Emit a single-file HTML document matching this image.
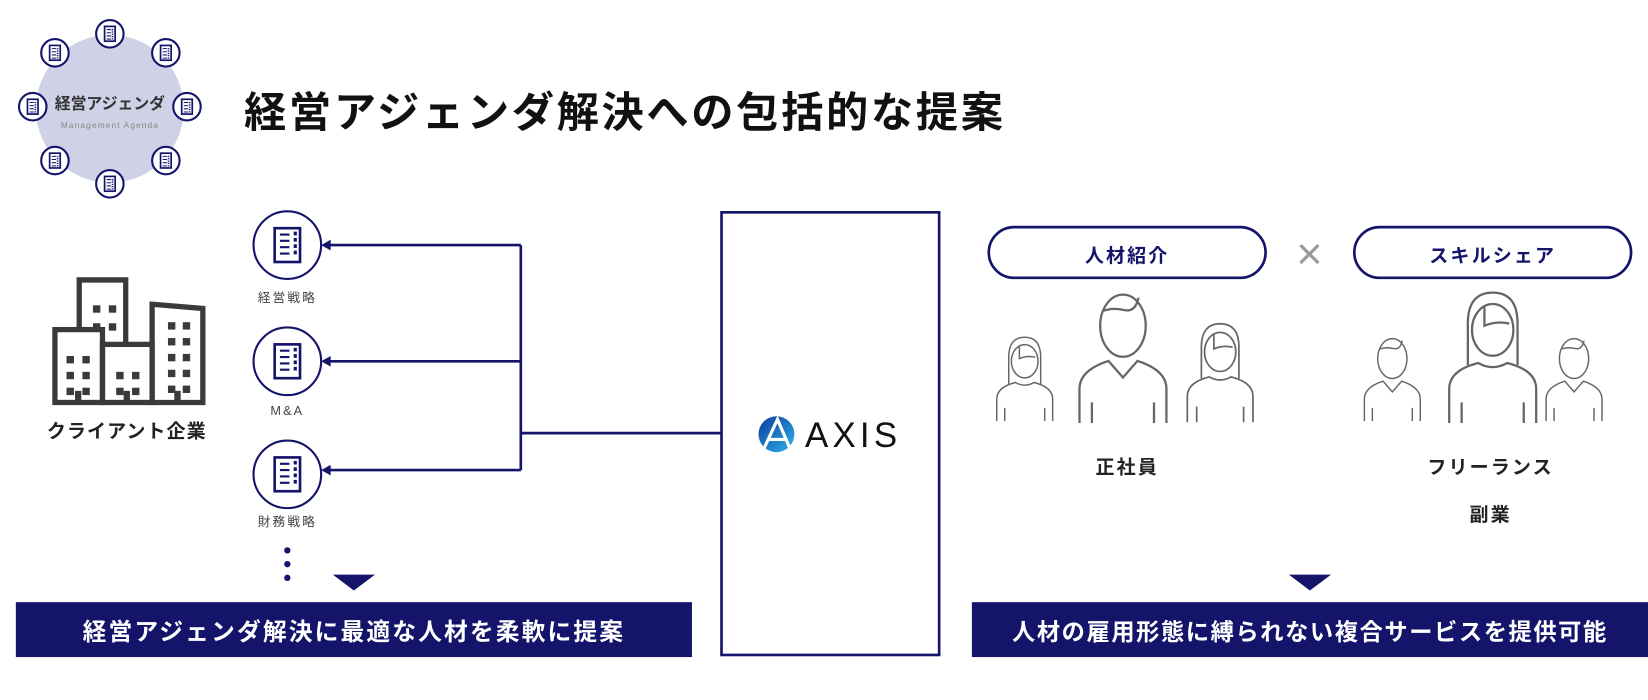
<!DOCTYPE html>
<html><head><meta charset="utf-8"><style>
body{margin:0;width:1648px;height:663px;background:#fff;position:relative;overflow:hidden;font-family:"Liberation Sans","Noto Sans CJK JP",sans-serif}
#w{position:absolute;left:0;top:0;width:1560px;height:628px;transform:scale(1.0564);transform-origin:0 0}
.t{position:absolute;white-space:nowrap}
</style></head><body><div id="w">
<svg width="1648" height="663" style="position:absolute;left:0;top:0">
<defs>
<g id="doc"><circle r="13" fill="#fff" stroke="#14146b" stroke-width="2"/><rect x="-5" y="-7" width="10" height="14" fill="none" stroke="#14146b" stroke-width="1.6"/><path d="M-3-4h4M-3-1h4M-3 2h4M-3 5h4" stroke="#14146b" stroke-width="1"/><path d="M2.5-4.5v10" stroke="#14146b" stroke-width="1.6" stroke-dasharray="1.2 1"/></g>
<g id="bdoc"><circle r="32" fill="#fff" stroke="#14146b" stroke-width="2"/><rect x="-12" y="-16" width="24" height="32" fill="none" stroke="#14146b" stroke-width="2.5"/><path d="M-7-10h9M-7-4h9M-7 2h9M-7 8h9" stroke="#14146b" stroke-width="2"/><path d="M6-11h3M6-5h3M6 1h3M6 7h3" stroke="#14146b" stroke-width="3.5"/></g>
<g id="man" fill="none" stroke="#666" stroke-width="2.2"><ellipse cx="0" cy="34" rx="22" ry="30"/><path d="M-20 20q10 -4 22 -1q10 2 13 -12"/><path d="M-42 128V95q0-18 28-27L0 84L14 68q28 9 28 27v33M-30 108v20M30 108v20"/></g>
<g id="wom" fill="none" stroke="#666" stroke-width="2.2"><ellipse cx="0" cy="38" rx="20" ry="25"/><path d="M-24 72V32q0-30 24-30q24 0 24 30v40"/><path d="M-8 16v18q12 -5 24 -2"/><path d="M-42 128V95q0-18 28-25q14 8 28 0q28 7 28 25v33M-30 108v20M30 108v20"/></g>
</defs>
<circle cx="104" cy="103" r="70" fill="#cfd1e6"/>
<use href="#doc" x="104" y="32"/><use href="#doc" x="52" y="50"/><use href="#doc" x="157" y="50"/><use href="#doc" x="31" y="101"/><use href="#doc" x="177" y="101"/><use href="#doc" x="52" y="152"/><use href="#doc" x="157" y="152"/><use href="#doc" x="104" y="174"/>
<rect x="76" y="264" width="42" height="48" fill="#fff"/><rect x="98" y="327" width="44" height="52" fill="#fff"/><rect x="53" y="313" width="42" height="66" fill="#fff"/>
<g fill="none" stroke="#3a3a3a" stroke-width="5"><path d="M144 381V288l48 4v89z"/><path d="M75 312V265h44v61"/><rect x="52" y="312" width="45" height="69"/><rect x="97" y="326" width="47" height="55"/></g>
<g fill="#3a3a3a"><rect x="88" y="289" width="7" height="7"/><rect x="103" y="289" width="7" height="7"/><rect x="88" y="306" width="7" height="7"/><rect x="103" y="306" width="7" height="7"/>
<rect x="63" y="337" width="7" height="7"/><rect x="78" y="337" width="7" height="7"/><rect x="63" y="352" width="7" height="7"/><rect x="78" y="352" width="7" height="7"/><rect x="63" y="367" width="7" height="7"/><rect x="78" y="367" width="7" height="7"/>
<rect x="110" y="352" width="7" height="7"/><rect x="125" y="352" width="7" height="7"/><rect x="110" y="367" width="7" height="7"/><rect x="125" y="367" width="7" height="7"/>
<rect x="159" y="305" width="7" height="7"/><rect x="173" y="305" width="7" height="7"/><rect x="159" y="320" width="7" height="7"/><rect x="173" y="320" width="7" height="7"/><rect x="159" y="335" width="7" height="7"/><rect x="173" y="335" width="7" height="7"/><rect x="159" y="350" width="7" height="7"/><rect x="173" y="350" width="7" height="7"/><rect x="159" y="365" width="7" height="7"/><rect x="173" y="365" width="7" height="7"/>
<rect x="71" y="370" width="6" height="11"/><rect x="117" y="370" width="6" height="11"/><rect x="165" y="370" width="6" height="11"/></g>
<use href="#bdoc" x="272" y="232"/><use href="#bdoc" x="272" y="342"/><use href="#bdoc" x="272" y="449"/>
<g stroke="#14146b" stroke-width="2.5" fill="none"><path d="M682 410H493M493 232V445M493 232H312M493 342H312M493 445H312"/></g>
<g fill="#14146b"><path d="M304 232l9-5v10z"/><path d="M304 342l9-5v10z"/><path d="M304 445l9-5v10z"/>
<circle cx="272" cy="521" r="3"/><circle cx="272" cy="534" r="3"/><circle cx="272" cy="547" r="3"/>
<path d="M315 544h40l-20 15z"/><path d="M1220 544h40l-20 15z"/></g>
<rect x="683" y="201" width="206" height="419" fill="none" stroke="#14146b" stroke-width="2.5"/>
<defs><linearGradient id="ag" x1="0" y1="0" x2="1" y2="1"><stop offset="0" stop-color="#0a3a9a"/><stop offset="1" stop-color="#30b4ee"/></linearGradient></defs>
<circle cx="735" cy="411" r="17" fill="url(#ag)"/><path d="M723 425L736 397L748 425M727 416h17" stroke="#fff" stroke-width="3" fill="none"/>
<rect x="936" y="215" width="262" height="48" rx="24" fill="#fff" stroke="#14146b" stroke-width="2.5"/>
<rect x="1282" y="215" width="262" height="48" rx="24" fill="#fff" stroke="#14146b" stroke-width="2.5"/>
<path d="M1231 232l17 17M1248 232l-17 17" stroke="#999" stroke-width="3"/>
<use href="#wom" transform="translate(970,318) scale(0.63)"/>
<use href="#man" transform="translate(1063,275) scale(0.98)"/>
<use href="#wom" transform="translate(1155,305) scale(0.74)"/>
<use href="#man" transform="translate(1318,318) scale(0.63)"/>
<use href="#wom" transform="translate(1413,275) scale(0.98)"/>
<use href="#man" transform="translate(1490,318) scale(0.63)"/>
<rect x="15" y="570" width="640" height="52" fill="#14146b"/>
<rect x="920" y="570" width="640" height="52" fill="#14146b"/>
</svg>
<div class="t" style="left:20px;top:87px;width:168px;text-align:center;font-size:15px;font-weight:bold;color:#333">経営アジェンダ</div>
<div class="t" style="left:20px;top:114px;width:168px;text-align:center;font-size:8px;letter-spacing:1px;color:#888">Management Agenda</div>
<div class="t" style="left:231px;top:74px;font-size:40px;font-weight:bold;color:#111;letter-spacing:2.5px">経営アジェンダ解決への包括的な提案</div>
<div class="t" style="left:30px;top:394px;width:180px;text-align:center;font-size:18px;font-weight:bold;color:#222;letter-spacing:1px">クライアント企業</div>
<div class="t" style="left:222px;top:273px;width:100px;text-align:center;font-size:12px;color:#444;letter-spacing:2px">経営戦略</div>
<div class="t" style="left:222px;top:382px;width:100px;text-align:center;font-size:12px;color:#444;letter-spacing:2px">M&amp;A</div>
<div class="t" style="left:222px;top:485px;width:100px;text-align:center;font-size:12px;color:#444;letter-spacing:2px">財務戦略</div>
<div class="t" style="left:762px;top:393px;font-size:33px;color:#111;letter-spacing:4px">AXIS</div>
<div class="t" style="left:936px;top:228px;width:262px;text-align:center;font-size:18px;font-weight:bold;color:#14146b;letter-spacing:2px">人材紹介</div>
<div class="t" style="left:1282px;top:228px;width:262px;text-align:center;font-size:18px;font-weight:bold;color:#14146b;letter-spacing:2px">スキルシェア</div>
<div class="t" style="left:967px;top:428px;width:200px;text-align:center;font-size:18px;font-weight:bold;color:#222;letter-spacing:2px">正社員</div>
<div class="t" style="left:1311px;top:428px;width:200px;text-align:center;font-size:18px;font-weight:bold;color:#222;letter-spacing:2px">フリーランス</div>
<div class="t" style="left:1311px;top:473px;width:200px;text-align:center;font-size:18px;font-weight:bold;color:#222;letter-spacing:2px">副業</div>
<div class="t" style="left:15px;top:581px;width:640px;text-align:center;font-size:22.5px;font-weight:bold;color:#fff;letter-spacing:2px">経営アジェンダ解決に最適な人材を柔軟に提案</div>
<div class="t" style="left:920px;top:581px;width:640px;text-align:center;font-size:22px;font-weight:bold;color:#fff;letter-spacing:1.5px">人材の雇用形態に縛られない複合サービスを提供可能</div>
</div></body></html>
